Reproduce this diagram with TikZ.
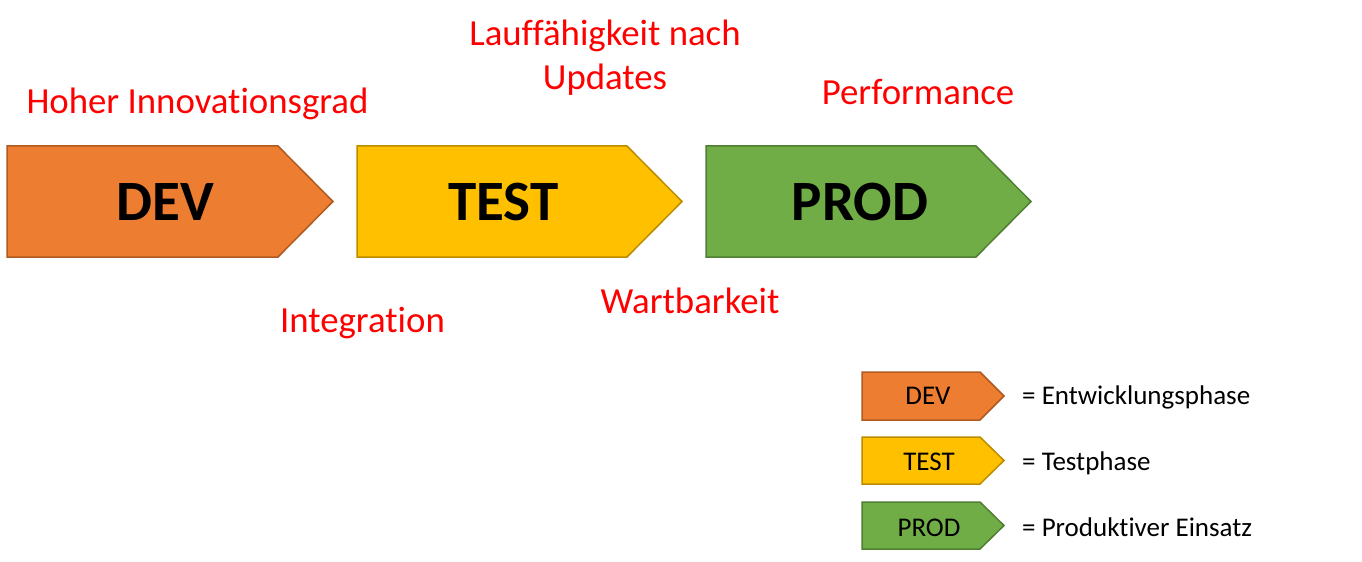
\documentclass[tikz,border=0pt]{standalone}
\usepackage{fontspec}
\setmainfont{Carlito}[Ligatures=NoCommon]

\definecolor{devfill}{HTML}{ED7D31}
\definecolor{devline}{HTML}{AE5A21}
\definecolor{testfill}{HTML}{FFC000}
\definecolor{testline}{HTML}{BC8C00}
\definecolor{prodfill}{HTML}{70AD47}
\definecolor{prodline}{HTML}{507E32}
\definecolor{labelred}{HTML}{FF0000}

% pentagon arrow: fill, line, left, top, shoulder, tip, bottom
\newcommand\phaseshape[7]{%
  \filldraw[fill=#1,draw=#2,line width=1.5bp,line join=miter]
    (#3,#4) -- (#5,#4) -- (#6,{(#4+#7)/2}) -- (#5,#7) -- (#3,#7) -- cycle;}

\begin{document}
\begin{tikzpicture}[x=1bp,y=-1bp,
  bigtext/.style={font=\fontsize{57bp}{68bp}\selectfont\bfseries,anchor=base,inner sep=0},
  keytext/.style={font=\fontsize{27bp}{33bp}\selectfont,anchor=base,inner sep=0},
  note/.style={font=\fontsize{36.8bp}{44bp}\selectfont,text=labelred,anchor=base,inner sep=0,align=center}]
\useasboundingbox (0,0) rectangle (1362,562);

% main phase arrows
\phaseshape{devfill}{devline}{7}{146}{278}{333}{257}
\phaseshape{testfill}{testline}{357}{146}{627}{682}{257}
\phaseshape{prodfill}{prodline}{706}{146}{976}{1031}{257}
\node[bigtext] (dev)  at (165,221)   {DEV};
\node[bigtext] (test) at (503.5,221) {TEST};
\node[bigtext] (prod) at (860,221)   {PROD};

% requirement notes
\node[note] (innov)  at (197.5,114) {Hoher Innovationsgrad};
\node[note] (lauf)   at (605,90)    {Lauffähigkeit nach\\Updates};
\node[note] (perf)   at (918,105)   {Performance};
\node[note] (integ)  at (362.5,332) {Integration};
\node[note] (wart)   at (690,313)   {Wartbarkeit};

% legend
\phaseshape{devfill}{devline}{862}{372}{980}{1004}{420}
\phaseshape{testfill}{testline}{862}{437}{980}{1004}{484}
\phaseshape{prodfill}{prodline}{862}{502}{980}{1004}{549}
\node[keytext] (kdev)  at (928,404) {DEV};
\node[keytext] (ktest) at (929,470) {TEST};
\node[keytext] (kprod) at (929,536) {PROD};
\node[keytext,anchor=base west] (ldev)  at (1022,404) {= Entwicklungsphase};
\node[keytext,anchor=base west] (ltest) at (1022,470) {= Testphase};
\node[keytext,anchor=base west] (lprod) at (1022,536) {= Produktiver Einsatz};
\end{tikzpicture}
\end{document}
